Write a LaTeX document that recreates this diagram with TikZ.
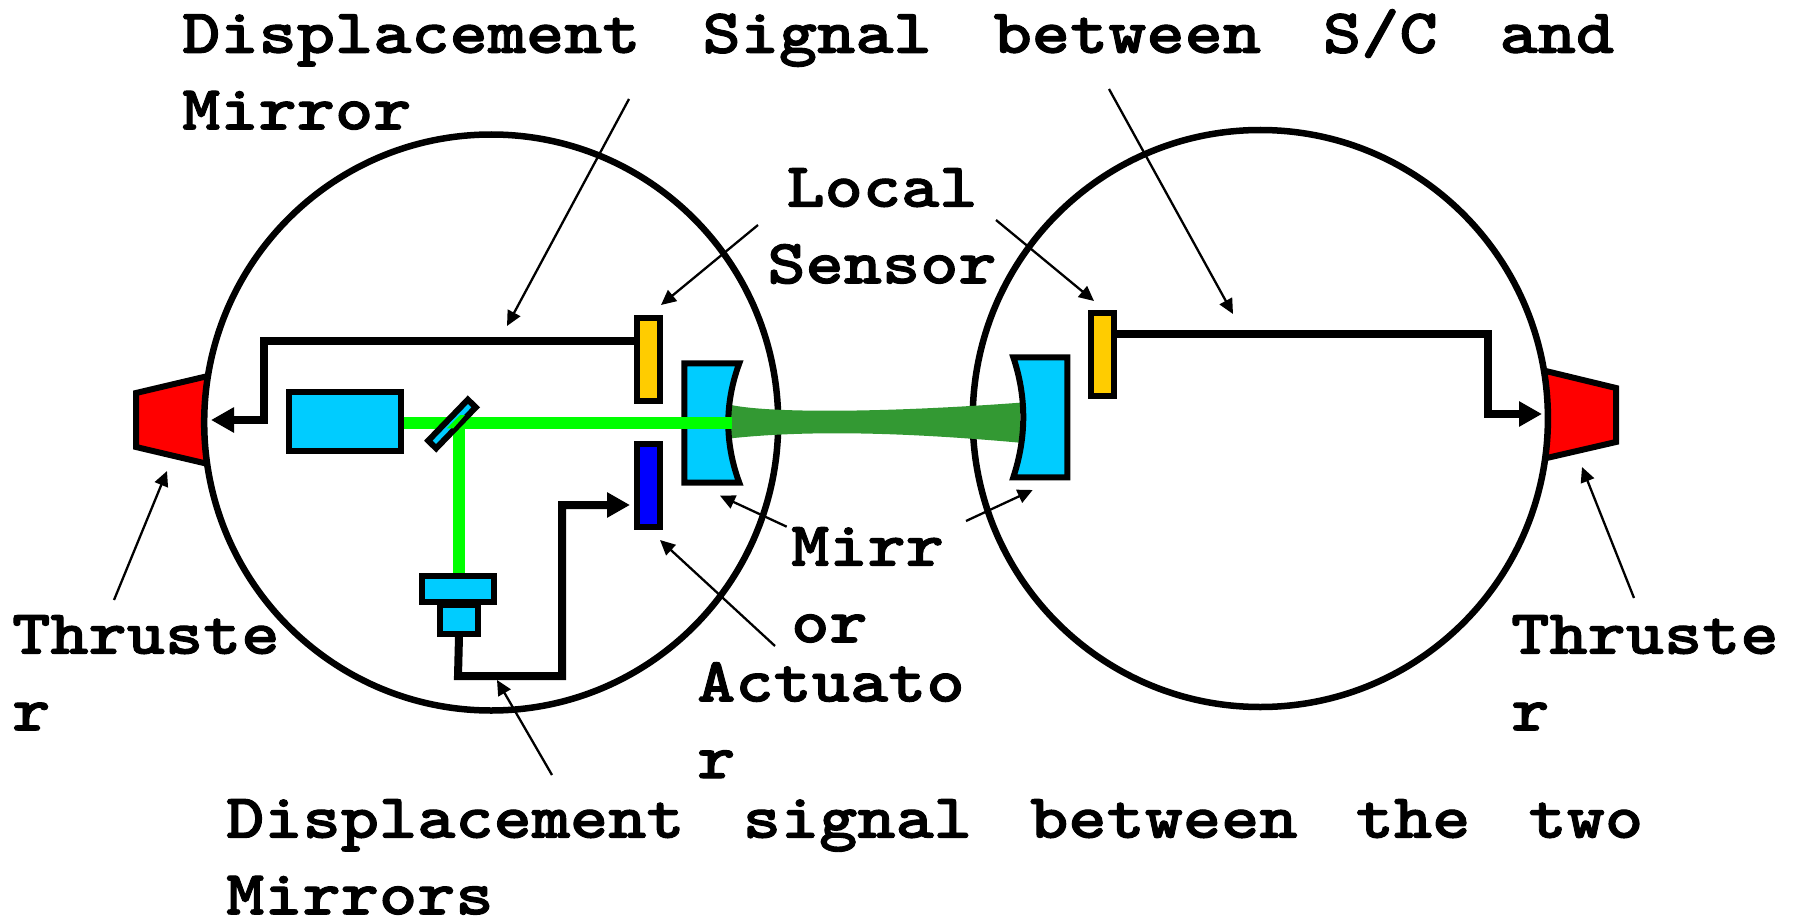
\documentclass[tikz,border=0pt]{standalone}
\usepackage{fontspec}
\newfontfamily\capfont{lmmonolt10-bold.otf}[FakeStretch=1.155,FakeBold=1.5]
\usetikzlibrary{arrows.meta}
\definecolor{optcyan}{HTML}{00CCFF}
\definecolor{beamgreen}{HTML}{339933}
\definecolor{sensoryellow}{HTML}{FFCC00}
\tikzset{
  part/.style={draw,line width=6pt,inner sep=0pt,fill=optcyan},
  hull/.style={draw,line width=6.5pt,fill=white},
  thruster/.style={draw,line width=6pt,fill=red,line join=miter},
  laserline/.style={draw=green,line width=12pt},
  signal/.style={line width=8pt,-{Triangle[length=23pt,width=24pt]}},
  pointer/.style={line width=2.3pt,-{Triangle[length=15pt,width=14pt]}},
  caption/.style={inner sep=0pt,anchor=north west,align=left,font=\fontsize{63}{76.6}\capfont\selectfont}
}
\begin{document}
\begin{tikzpicture}[x=1pt,y=-1pt]
      \useasboundingbox (0,0) rectangle (1793,920);
      \draw[thruster] (225,372) -- (136,393) -- (136,447) -- (225,468) -- cycle;
      \draw[thruster] (1525,366) -- (1616,388) -- (1616,442) -- (1525,463) -- cycle;
      \draw[hull] (491.2,422.5) ellipse (287 and 288);
      \draw[hull] (1260.3,418.5) ellipse (287.6 and 288.5);
      \fill[beamgreen] (731,405) .. controls (770,413) and (880,413) .. (1020,402.7)
        -- (1020,442.7) .. controls (890,431) and (800,431) .. (731,438.3) -- cycle;
      \draw[part] (684.3,363.3) -- (739.3,363.3) .. controls (724.6,403) and (724.6,443) .. (739.3,482.7) -- (684.3,482.7) -- cycle;
      \draw[part] (1067.3,357.3) -- (1013.3,357.3) .. controls (1026.6,397) and (1026.6,437) .. (1013.3,477.3) -- (1067.3,477.3) -- cycle;
      \draw
        (344.5,421.5) node[part,minimum width=112pt,minimum height=59.5pt] (laser){}
        (648.5,359.2) node[part,fill=sensoryellow,minimum width=22.6pt,minimum height=82.6pt] (sensorL){}
        (648.5,485.2) node[part,fill=blue,minimum width=22.6pt,minimum height=82.6pt] (actuator){}
        (1102.5,354.2) node[part,fill=sensoryellow,minimum width=22.6pt,minimum height=82.6pt] (sensorR){};
      \coordinate (mirrorL) at (731.7,422.5);
      \coordinate (split) at (459,422.5);
      \draw[laserline] (laser.east |- split) -- (mirrorL);
      \draw[laserline] (split) -- (459,574);
      \draw
        (452,424) node[part,rotate=46,minimum width=57pt,minimum height=11pt] (splitter){}
        (458,588.5) node[part,minimum width=72.5pt,minimum height=26pt] (detectorT){}
        (459,619) node[part,minimum width=38.5pt,minimum height=29pt] (detectorB){};
      \fill[green] (460,415) -- (465,415) -- (453.3,428.3) -- (446.7,428.3) -- cycle;
      \draw
        (182,9) node[caption,text width=1432pt] (topcap){Displacement\hfill Signal\hfill between\hfill S/C\hfill and\\Mirror}
        (882,168) node[caption,anchor=north,align=center] (localcap){Local\\Sensor}
        (12,615) node[caption] (thrustL){Thruste\\r}
        (1511,615) node[caption] (thrustR){Thruste\\r}
        (791,527) node[caption] (mirrorcap){Mirr\\or}
        (697,662) node[caption] (actcap){Actuato\\r}
        (226,799) node[caption,text width=1417pt] (botcap){Displacement\hfill signal\hfill between\hfill the\hfill two\\Mirrors};
      \coordinate (wireLa) at (264,341);
      \coordinate (wireLb) at (264,420);
      \coordinate (tipLb) at (211,420);
      \coordinate (wireRa) at (1488,333.5);
      \coordinate (wireRb) at (1488,414);
      \coordinate (tipRb) at (1542,414);
      \coordinate (wireAa) at (458,676);
      \coordinate (wireAb) at (562,676);
      \coordinate (wireAc) at (562,505);
      \coordinate (tipAc) at (630,505);
      \begin{scope}[line join=miter]
        \draw[signal] (sensorL.west |- wireLa) -- (wireLa) -- (wireLb) -- (tipLb);
        \draw[signal] (sensorR.east |- wireRa) -- (wireRa) -- (wireRb) -- (tipRb);
        \draw[signal] (detectorB.south) -- (wireAa) -- (wireAb) -- (wireAc) -- (tipAc);
      \end{scope}
      \draw
        (629,99) coordinate (dispA)
        (507,326) coordinate (dispAtip)
        (1109,89) coordinate (dispB)
        (1233,314) coordinate (dispBtip)
        (758,225) coordinate (localA)
        (661,305) coordinate (localAtip)
        (996,220) coordinate (localB)
        (1094,301) coordinate (localBtip)
        (786.7,526.7) coordinate (mirrA)
        (720,495.7) coordinate (mirrAtip)
        (966,521) coordinate (mirrB)
        (1032.7,490) coordinate (mirrBtip)
        (775,646) coordinate (actA)
        (660,540) coordinate (actAtip)
        (114,600) coordinate (thrA)
        (167,471) coordinate (thrAtip)
        (1634,598) coordinate (thrB)
        (1582,467) coordinate (thrBtip)
        (552,775) coordinate (botA)
        (497,680) coordinate (botAtip);
      \begin{scope}[pointer]
        \draw (dispA) to (dispAtip);
        \draw (dispB) to (dispBtip);
        \draw (localA) to (localAtip);
        \draw (localB) to (localBtip);
        \draw (mirrA) to (mirrAtip);
        \draw (mirrB) to (mirrBtip);
        \draw (actA) to (actAtip);
        \draw (thrA) to (thrAtip);
        \draw (thrB) to (thrBtip);
        \draw (botA) to (botAtip);
      \end{scope}
    \end{tikzpicture}
\end{document}
